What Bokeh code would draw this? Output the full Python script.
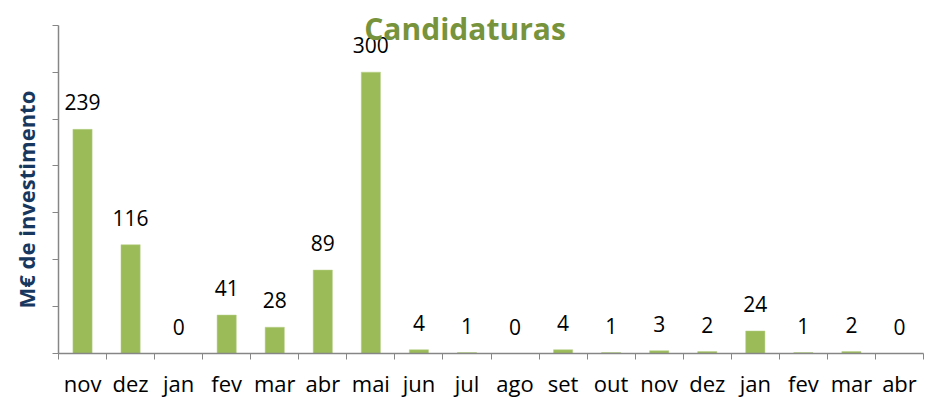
from bokeh.plotting import figure
from bokeh.models import FixedTicker, Range1d, Label, ColumnDataSource, Title
from bokeh.core.properties import value
from bokeh.embed import file_html
from bokeh.resources import INLINE

months = ["nov", "dez", "jan", "fev", "mar", "abr", "mai", "jun", "jul",
          "ago", "set", "out", "nov", "dez", "jan", "fev", "mar", "abr"]
values = [239, 116, 0, 41, 28, 89, 300, 4, 1, 0, 4, 1, 3, 2, 24, 1, 2, 0]
y_ticks = [0, 50, 100, 150, 200, 250, 300, 350]

n = len(months)
xs = [i + 0.5 for i in range(n)]
src = ColumnDataSource(dict(x=xs, top=values, lab=[str(v) for v in values]))

FONT = "Open Sans"
p = figure(width=925, height=400, output_backend="svg", toolbar_location=None,
           x_range=Range1d(0, n), y_range=Range1d(0, 370),
           min_border_left=57, min_border_right=2, min_border_top=6, min_border_bottom=45)
p.outline_line_color = None
p.grid.grid_line_color = None
p.background_fill_color = "white"

p.vbar(x="x", top="top", width=0.4, bottom=0, source=src,
       fill_color="#9BBB59", line_color="#B9D08A", line_width=0.5)
p.text(x="x", y="top", text="lab", source=src, text_align="center",
       text_baseline="middle", y_offset=-27, text_font=value(FONT),
       text_font_size="21px", text_color="black")

# x axis: labels at centers, ticks at boundaries
xa = p.xaxis[0]
xa.ticker = FixedTicker(ticks=xs, minor_ticks=list(range(n + 1)))
xa.major_label_overrides = {x: m for x, m in zip(xs, months)}
xa.major_tick_out = 0
xa.major_tick_in = 0
xa.minor_tick_out = 6
xa.minor_tick_in = 0
xa.minor_tick_line_color = "#868686"
xa.axis_line_color = "#868686"
xa.axis_line_width = 1.5
xa.major_label_text_font = FONT
xa.major_label_text_font_size = "22px"
xa.major_label_text_color = "black"
xa.major_label_standoff = 8

ya = p.yaxis[0]
ya.ticker = FixedTicker(ticks=[], minor_ticks=y_ticks)
ya.bounds = (0, 350)
ya.major_tick_out = 6
ya.major_tick_in = 0
ya.minor_tick_out = 6
ya.minor_tick_in = 0
ya.minor_tick_line_color = "#868686"
ya.axis_line_color = "#868686"
ya.axis_line_width = 1.5
ya.major_label_standoff = 0

ylab = Title(text="M€ de investimento", align="left", offset=45, standoff=20,
             vertical_align="top",
             text_font=FONT, text_font_style="bold", text_font_size="22px",
             text_color="#17375E")
p.add_layout(ylab, "left")

title = Label(x=8.46, y=346.5, text="Candidaturas", text_align="center",
              text_baseline="middle", text_font=FONT, text_font_style="bold",
              text_font_size="30px", text_color="#77933C")
p.add_layout(title)

open("out.html", "w").write(file_html(p, INLINE))
